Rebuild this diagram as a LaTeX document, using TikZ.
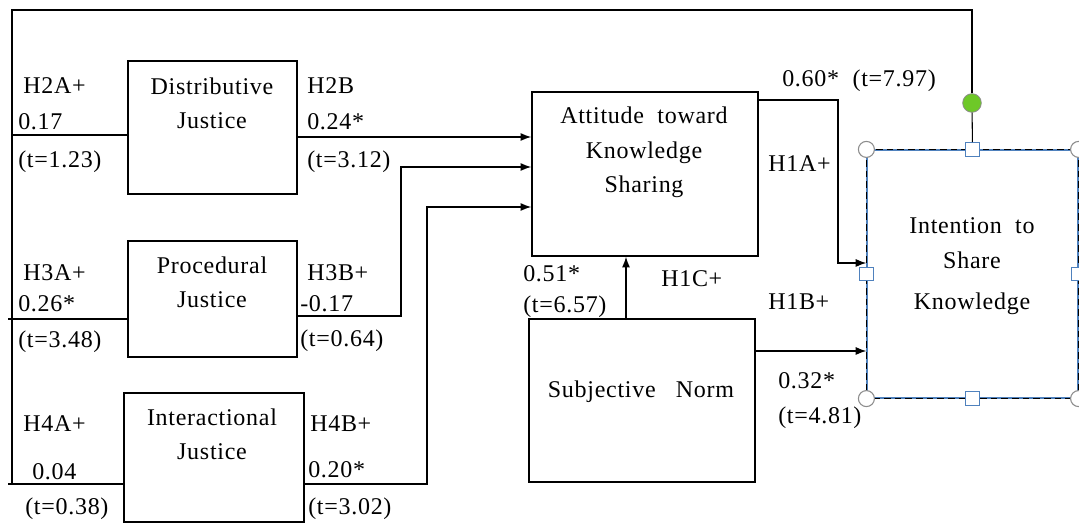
\documentclass[tikz,border=0pt]{standalone}
\usepackage{fontspec}
\newfontfamily\diagfont[LetterSpace=3]{Liberation Serif}
\usetikzlibrary{arrows.meta,fit}
\definecolor{handleblue}{RGB}{79,129,189}
\definecolor{handlegray}{RGB}{140,140,140}
\definecolor{rotgreen}{RGB}{110,200,40}
\newcommand\diagsize{\fontsize{18}{26}\selectfont}
\tikzset{
  box/.style={draw, line width=1.1pt, inner sep=0pt},
  lbl/.style={anchor=base west, inner sep=0pt},
  ctr/.style={anchor=base, align=center, inner sep=0pt},
  conn/.style={line width=1pt},
  arr/.style={conn, -{Latex[length=8pt,width=6pt]}},
  hcirc/.style={circle, draw=handlegray, fill=white, line width=0.8pt, minimum size=12pt, inner sep=0pt},
  hsq/.style={rectangle, draw=handleblue, fill=white, line width=0.8pt, minimum size=10pt, inner sep=0pt},
  hrot/.style={circle, draw=handlegray, fill=rotgreen, line width=0.6pt, minimum size=14pt, inner sep=0pt},
}
\begin{document}
\begin{tikzpicture}[x=0.75pt,y=0.75pt,yscale=-1,xscale=1,every node/.style={font=\diagfont\diagsize}]
\useasboundingbox (0,0) rectangle (1079,523);
%Boxes
\node[box, fit={(128,61) (297,194)}] (dj) {};
\node[box, fit={(128,241) (297,357)}] (pj) {};
\node[box, fit={(124,393) (304,522)}] (ij) {};
\node[box, fit={(532,92) (758,256)}] (att) {};
\node[box, fit={(529,319) (755,482)}] (sn) {};
\node[box, draw=handleblue, line width=0.9pt, fit={(867,150) (1078,398)}] (int) {};
\draw [line width=1pt, dash pattern=on 5pt off 3pt] (int.north west) rectangle (int.south east);
%Box texts (base = last line)
\node[ctr] (dj-txt) at (212,129) {Distributive\\Justice};
\node[ctr] (pj-txt) at (212,308) {Procedural\\Justice};
\node[ctr] (ij-txt) at (212,460) {Interactional\\Justice};
\node[ctr] (att-txt) at (644,193) {Attitude\ \ toward\\Knowledge\\Sharing};
\node[ctr] (sn-txt) at (641,398) {Subjective\ \ \ Norm};
\node[ctr] (int-txt) at (972,310) {Intention\ \ to\\Share\\[5pt]Knowledge};
%Selection handles
\node[hrot] (rot) at (972,103) {};
\node[hsq] (s-n) at (int.north) {};
\node[hsq] (s-s) at (int.south) {};
\node[hsq] (s-w) at (int.west) {};
\node[hsq] (s-e) at (int.east) {};
\node[hcirc] (c-nw) at (int.north west) {};
\node[hcirc] (c-ne) at (int.north east) {};
\node[hcirc] (c-sw) at (int.south west) {};
\node[hcirc] (c-se) at (int.south east) {};
\draw [line width=0.8pt] (rot) -- (s-n);
%Feedback line
\coordinate (nw) at (12,10);
\coordinate (sw) at (12,484);
\draw[conn] (rot) |- (nw) -- (sw);
\coordinate (h2a-in) at (12,135);
\coordinate (h3a-in) at (8,319);
\coordinate (h4a-in) at (8,484);
\draw[conn] (h2a-in) -- (h2a-in -| dj.west);
\draw[conn] (h3a-in) -- (h3a-in -| pj.west);
\draw[conn] (h4a-in) -- (h4a-in -| ij.west);
%Arrows into attitude
\draw[arr] (dj.east |- 0,137) -- (att.west |- 0,137);
\draw[arr] (pj.east |- 0,316) -| (401,167) -- (att.west |- 0,167);
\draw[arr] (ij.east |- 0,484) -| (427,207) -- (att.west |- 0,207);
\draw[arr] (sn.north -| 626,0) -- (att.south -| 626,0);
%Arrows into intention
\draw[arr] (att.east |- 0,100) -| (838,263) -- (int.west |- 0,263);
\draw[arr] (sn.east |- 0,351) -- (int.west |- 0,351);
%Path labels
\node[lbl] (h2a) at (23,94) {H2A+};
\node[lbl] (h2a-b) at (18,130) {0.17};
\node[lbl] (h2a-t) at (18,168) {(t=1.23)};
\node[lbl] (h2b) at (307,94) {H2B};
\node[lbl] (h2b-b) at (307,130) {0.24*};
\node[lbl] (h2b-t) at (307,168) {(t=3.12)};
\node[lbl] (h3a) at (23,281) {H3A+};
\node[lbl] (h3a-b) at (18,312) {0.26*};
\node[lbl] (h3a-t) at (18,348) {(t=3.48)};
\node[lbl] (h3b) at (307,281) {H3B+};
\node[lbl] (h3b-b) at (300,312) {-0.17};
\node[lbl] (h3b-t) at (300,347) {(t=0.64)};
\node[lbl] (h4a) at (23,432) {H4A+};
\node[lbl] (h4a-b) at (32,480) {0.04};
\node[lbl] (h4a-t) at (25,515) {(t=0.38)};
\node[lbl] (h4b) at (310,432) {H4B+};
\node[lbl] (h4b-b) at (308,478) {0.20*};
\node[lbl] (h4b-t) at (308,515) {(t=3.02)};
\node[lbl] (h1a-b) at (782,87) {0.60*\ \ (t=7.97)};
\node[lbl] (h1a) at (768,172) {H1A+};
\node[lbl] (h1c-b) at (523,282) {0.51*};
\node[lbl] (h1c-t) at (523,313) {(t=6.57)};
\node[lbl] (h1c) at (661,287) {H1C+};
\node[lbl] (h1b) at (768,310) {H1B+};
\node[lbl] (h1b-b) at (778,389) {0.32*};
\node[lbl] (h1b-t) at (778,424) {(t=4.81)};
\end{tikzpicture}
\end{document}
